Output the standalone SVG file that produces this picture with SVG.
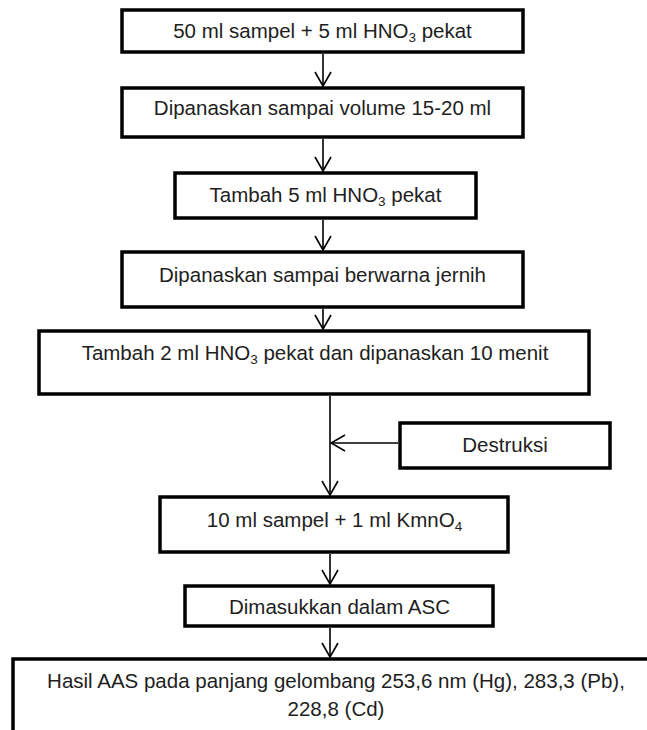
<svg xmlns="http://www.w3.org/2000/svg" width="647" height="730" viewBox="0 0 647 730">
  <style>
    .box { fill: #ffffff; stroke: #000000; stroke-width: 3.5; }
    .lbl { font-family: "Liberation Sans", Arial, sans-serif; font-size: 20.5px; fill: #1e1e1e; text-anchor: middle; }
    .sub { font-size: 13.5px; }
    .wire { fill: none; stroke: #000000; stroke-width: 1.6; }
    .head { fill: none; stroke: #000000; stroke-width: 1.6; stroke-linejoin: miter; }
  </style>
  <defs>
    <marker id="openArrow" viewBox="0 0 16 18" refX="15" refY="9" markerWidth="16" markerHeight="18" markerUnits="userSpaceOnUse" orient="auto">
      <path d="M1,1 L15,9 L1,17" fill="none" stroke="#000000" stroke-width="1.6"/>
    </marker>
  </defs>

  <rect width="647" height="730" fill="#ffffff"/>

  <!-- connectors -->
  <g id="connectors">
    <line class="wire" x1="323" y1="54" x2="323" y2="86" marker-end="url(#openArrow)"/>
    <line class="wire" x1="323" y1="139" x2="323" y2="171" marker-end="url(#openArrow)"/>
    <line class="wire" x1="323" y1="220" x2="323" y2="250" marker-end="url(#openArrow)"/>
    <line class="wire" x1="323" y1="309" x2="323" y2="329" marker-end="url(#openArrow)"/>
    <line class="wire" x1="330" y1="396" x2="330" y2="495" marker-end="url(#openArrow)"/>
    <line class="wire" x1="398" y1="443" x2="331" y2="443" marker-end="url(#openArrow)"/>
    <line class="wire" x1="330" y1="554" x2="330" y2="584" marker-end="url(#openArrow)"/>
    <line class="wire" x1="330" y1="628" x2="330" y2="657" marker-end="url(#openArrow)"/>
  </g>

  <!-- process steps -->
  <g id="step1">
    <rect class="box" x="122" y="10" width="401" height="42"/>
    <text class="lbl" x="322.5" y="38">50 ml sampel + 5 ml HNO<tspan class="sub" dy="4">3</tspan><tspan dy="-4"> pekat</tspan></text>
  </g>

  <g id="step2">
    <rect class="box" x="122" y="88" width="401" height="49"/>
    <text class="lbl" x="322.5" y="115">Dipanaskan sampai volume 15-20 ml</text>
  </g>

  <g id="step3">
    <rect class="box" x="175" y="173" width="301" height="45"/>
    <text class="lbl" x="325.5" y="202">Tambah 5 ml HNO<tspan class="sub" dy="4">3</tspan><tspan dy="-4"> pekat</tspan></text>
  </g>

  <g id="step4">
    <rect class="box" x="122" y="252" width="401" height="55"/>
    <text class="lbl" x="322.5" y="282">Dipanaskan sampai berwarna jernih</text>
  </g>

  <g id="step5">
    <rect class="box" x="39" y="331" width="550" height="63"/>
    <text class="lbl" x="315" y="360">Tambah 2 ml HNO<tspan class="sub" dy="4">3</tspan><tspan dy="-4"> pekat dan dipanaskan 10 menit</tspan></text>
  </g>

  <g id="destruksi">
    <rect class="box" x="400" y="423" width="210" height="45"/>
    <text class="lbl" x="505" y="452">Destruksi</text>
  </g>

  <g id="step6">
    <rect class="box" x="160" y="497" width="348" height="55"/>
    <text class="lbl" x="334.5" y="527">10 ml sampel + 1 ml KmnO<tspan class="sub" dy="4">4</tspan></text>
  </g>

  <g id="step7">
    <rect class="box" x="185" y="586" width="308" height="40"/>
    <text class="lbl" x="339.5" y="614">Dimasukkan dalam ASC</text>
  </g>

  <g id="result">
    <rect class="box" x="13" y="659" width="700" height="200"/>
    <text class="lbl" x="336" y="688">Hasil AAS pada panjang gelombang 253,6 nm (Hg), 283,3 (Pb),</text>
    <text class="lbl" x="336" y="716">228,8 (Cd)</text>
  </g>
</svg>
